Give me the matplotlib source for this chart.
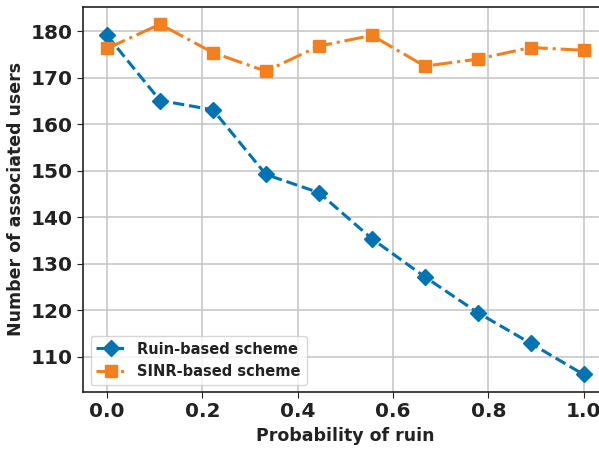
import numpy as np
import matplotlib
matplotlib.use('Agg')
import matplotlib.pyplot as plt

# Data
prob_ruin = np.linspace(0, 1, 10)
ruin_users = [179.1, 165.1, 163.1, 149.2, 145.3, 135.4, 127.2, 119.5, 112.9, 106.2]
sinr_users = [176.3, 181.5, 175.4, 171.4, 176.8, 179.1, 172.5, 174.0, 176.5, 175.9]
x_ticks = [0.0, 0.2, 0.4, 0.6, 0.8, 1.0]
y_ticks = [110, 120, 130, 140, 150, 160, 170, 180]

plt.rcParams['font.family'] = ['DejaVu Sans']
plt.rcParams['font.weight'] = 'bold'

fig = plt.figure(figsize=(5.99, 4.49), dpi=100)
ax = fig.add_axes([0.139, 0.127, 0.875, 0.858])

ax.plot(prob_ruin, ruin_users, linestyle='--', marker='D', color='#0173b2',
        linewidth=2.2, markersize=8, label='Ruin-based scheme')
ax.plot(prob_ruin, sinr_users, linestyle='-.', marker='s', color='#f47f1f',
        linewidth=2.2, markersize=8, label='SINR-based scheme')

ax.set_xticks(x_ticks)
ax.set_yticks(y_ticks)
ax.grid(True, color='#c8c8c8', linewidth=1.2)
ax.set_axisbelow(True)
for s in ax.spines.values():
    s.set_color('#222222')
    s.set_linewidth(1.2)
ax.tick_params(axis='both', labelsize=14.5, length=4, color='#222222', labelcolor='#222222')
for lbl in ax.get_xticklabels() + ax.get_yticklabels():
    lbl.set_fontweight('bold')

ax.set_xlabel('Probability of ruin', fontsize=12.5, fontweight='bold', color='#222222')
ax.set_ylabel('Number of associated users', fontsize=12.5, fontweight='bold', color='#222222')

leg = ax.legend(loc='lower left', prop={'size': 10.5, 'weight': 'bold'}, framealpha=0.8,
                borderaxespad=0.5)
for t in leg.get_texts():
    t.set_color('#222222')

fig.savefig('out.png', dpi=100)
